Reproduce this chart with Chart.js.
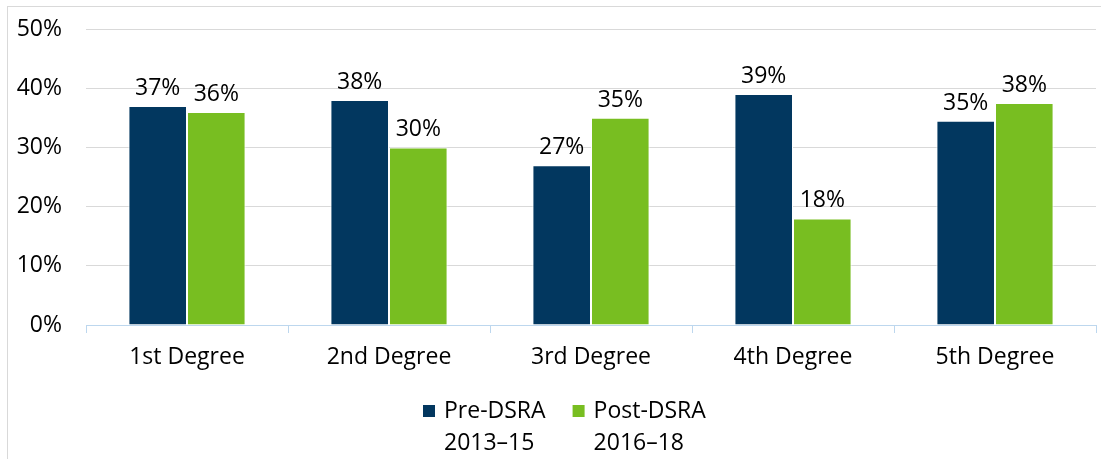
<!DOCTYPE html>
<html>
<head>
<meta charset="utf-8">
<script src="https://cdn.jsdelivr.net/npm/chart.js"></script>
<style>
  html, body { margin: 0; padding: 0; background: #fff; }
  #wrap { position: relative; width: 1101px; height: 459px; }
  #frame { position: absolute; left: 7px; top: 6px; width: 1100px; height: 470px; border: 1px solid #d9d9d9; box-sizing: border-box; }
  canvas { position: absolute; left: 0; top: 0; }
</style>
</head>
<body>
<div id="wrap">
  <div id="frame"></div>
  <canvas id="degreeChart" width="1101" height="459"></canvas>
</div>
<script>
// Chart data
const categories = ['1st Degree', '2nd Degree', '3rd Degree', '4th Degree', '5th Degree'];
const preDsra = [37, 38, 27, 39, 34.5];
const postDsra = [36, 30, 35, 18, 37.5];
const seriesNames = [['Pre-DSRA', '2013–15'], ['Post-DSRA', '2016–18']];
const yTicks = [0, 10, 20, 30, 40, 50];

const FONT = '"Open Sans", "DejaVu Sans", sans-serif';
const FONT_SIZE = 23;
const NAVY = '#02375f';
const GREEN = '#78be21';

// draws the % value above each bar
const barLabels = {
    id: 'barLabels',
    afterDatasetsDraw(chart) {
        const ctx = chart.ctx;
        ctx.save();
        ctx.font = `${FONT_SIZE}px ${FONT}`;
        ctx.fillStyle = '#000';
        ctx.textAlign = 'center';
        ctx.textBaseline = 'bottom';
        chart.data.datasets.forEach((ds, i) => {
            chart.getDatasetMeta(i).data.forEach((bar, j) => {
                ctx.fillText(Math.round(ds.data[j]) + '%', bar.x, bar.y - 6);
            });
        });
        ctx.restore();
    }
};

// legend with two-line labels, drawn below the axis
const twoLineLegend = {
    id: 'twoLineLegend',
    afterDraw(chart) {
        const ctx = chart.ctx;
        ctx.save();
        ctx.font = `${FONT_SIZE}px ${FONT}`;
        ctx.textBaseline = 'middle';
        ctx.textAlign = 'left';
        let x = 423;
        const y = 411;
        const lineH = 32;
        chart.data.datasets.forEach(ds => {
            ctx.fillStyle = ds.backgroundColor;
            ctx.fillRect(x, y - 6, 12, 12);
            ctx.fillStyle = '#000';
            let w = 0;
            ds.label.forEach((line, k) => {
                ctx.fillText(line, x + 21, y + k * lineH);
                w = Math.max(w, ctx.measureText(line).width);
            });
            x += 21 + w + 27;
        });
        ctx.restore();
    }
};

new Chart(document.getElementById('degreeChart').getContext('2d'), {
    type: 'bar',
    data: {
        labels: categories,
        datasets: [
            { label: seriesNames[0], data: preDsra, backgroundColor: NAVY, borderColor: '#ffffff', borderWidth: 1 },
            { label: seriesNames[1], data: postDsra, backgroundColor: GREEN, borderColor: '#ffffff', borderWidth: 1 }
        ]
    },
    options: {
        responsive: false,
        animation: false,
        layout: { padding: { left: 0, right: 5, top: 29, bottom: 0 } },
        datasets: { bar: { categoryPercentage: 0.58, barPercentage: 1 } },
        plugins: {
            legend: { display: false },
            tooltip: { enabled: false }
        },
        scales: {
            x: {
                grid: { drawOnChartArea: false, color: '#bdd7ee', tickLength: 8 },
                border: { color: '#bdd7ee' },
                ticks: { color: '#000', font: { family: FONT, size: FONT_SIZE }, padding: 11 },
                afterFit: s => { s.height = 134; }
            },
            y: {
                min: 0,
                max: 50,
                afterBuildTicks: s => { s.ticks = yTicks.map(v => ({ value: v })); },
                grid: { color: '#d9d9d9', drawTicks: false },
                border: { display: false },
                ticks: {
                    color: '#000',
                    font: { family: FONT, size: FONT_SIZE },
                    padding: 24,
                    callback: v => v + '%'
                },
                // label padding would otherwise push the plot top down
                afterFit: s => { s.width = 86; s.paddingTop = 0; s.paddingBottom = 0; }
            }
        }
    },
    plugins: [barLabels, twoLineLegend]
});
</script>
</body>
</html>
